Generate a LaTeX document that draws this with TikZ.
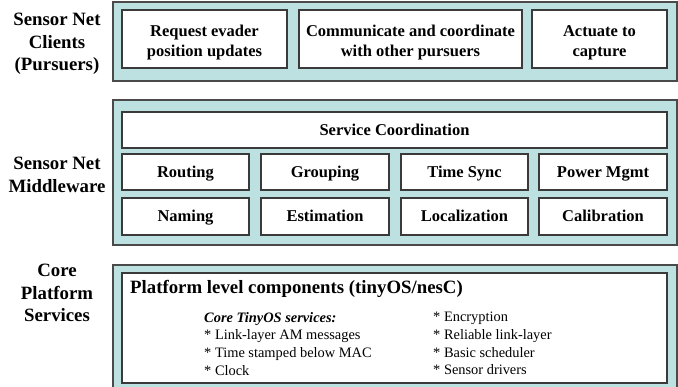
\documentclass[tikz,border=0pt]{standalone}
\usepackage{fontspec}
\setmainfont{Liberation Serif}
\definecolor{panelfill}{HTML}{BDE1E1}
\definecolor{panelline}{HTML}{4A4A4A}
\definecolor{boxline}{HTML}{3A3A3A}
\begin{document}
\begin{tikzpicture}[x=1pt,y=-1pt,
  panel/.style={draw=panelline,line width=1.6pt,fill=panelfill},
  cbox/.style={draw=boxline,line width=1.1pt,fill=white},
  boxtext/.style={font=\bfseries\fontsize{16.5}{20}\selectfont,align=center},
  onetext/.style={font=\bfseries\fontsize{16.5}{20}\selectfont,anchor=base},
  sidetext/.style={font=\bfseries\fontsize{18.8}{22.5}\selectfont,align=center},
  listtext/.style={font=\fontsize{14.4}{17.7}\selectfont,align=left,anchor=north west,inner sep=0pt}]
\useasboundingbox (0,0) rectangle (678,387);
% panels
\draw[panel] (113,2) rectangle (677,81);
\draw[panel] (113,100) rectangle (677,245);
\draw[panel] (113,265) rectangle (677,389);
% side labels
\node[sidetext] (l1) at (57,44) {Sensor Net\\Clients\\(Pursuers)};
\node[sidetext] (l2) at (57,175) {Sensor Net\\Middleware};
\node[sidetext] (l3) at (57,293) {Core\\Platform\\Services};
% row 1
\draw[cbox] (122,10) rectangle (287,68);
\node[boxtext] (c1) at (204.5,43) {Request evader\\position updates};
\draw[cbox] (299,10) rectangle (522,68);
\node[boxtext] (c2) at (410.5,43) {Communicate and coordinate\\with other pursuers};
\draw[cbox] (532,10) rectangle (667,68);
\node[boxtext] (c3) at (599.5,43) {Actuate to\\capture};
% middleware
\draw[cbox] (122,112) rectangle (667,148);
\node[onetext] (sc) at (394.5,135.5) {Service Coordination};
\draw[cbox] (122,154) rectangle (249,190);
\node[onetext] (m1) at (185.5,177.5) {Routing};
\draw[cbox] (261,154) rectangle (389,190);
\node[onetext] (m2) at (325,177.5) {Grouping};
\draw[cbox] (401,154) rectangle (528,190);
\node[onetext] (m3) at (464.5,177.5) {Time Sync};
\draw[cbox] (539,154) rectangle (667,190);
\node[onetext] (m4) at (603,177.5) {Power Mgmt};
\draw[cbox] (122,198) rectangle (249,235);
\node[onetext] (n1) at (185.5,222) {Naming};
\draw[cbox] (261,198) rectangle (389,235);
\node[onetext] (n2) at (325,222) {Estimation};
\draw[cbox] (401,198) rectangle (528,235);
\node[onetext] (n3) at (464.5,222) {Localization};
\draw[cbox] (539,198) rectangle (667,235);
\node[onetext] (n4) at (603,222) {Calibration};
% platform
\draw[cbox] (122,273) rectangle (667,383);
\node[font=\bfseries\fontsize{18.8}{22}\selectfont,anchor=west,inner sep=0pt] (ph) at (130,289) {Platform level components (tinyOS/nesC)};
\node[listtext] (la) at (204,312) {\textbf{\textit{Core TinyOS services:}}\\* Link-layer AM messages\\* Time stamped below MAC\\* Clock};
\node[listtext] (lb) at (433,312) {* Encryption\\* Reliable link-layer\\* Basic scheduler\\* Sensor drivers};
\end{tikzpicture}
\end{document}
